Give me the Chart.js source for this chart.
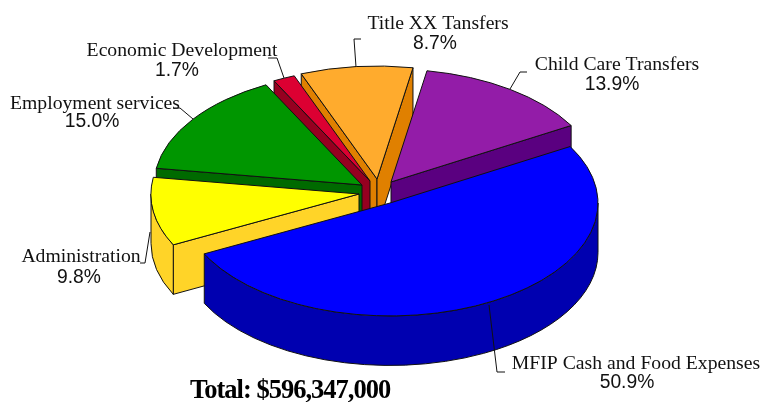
<!DOCTYPE html>
<html>
<head>
<meta charset="utf-8">
<script src="https://cdn.jsdelivr.net/npm/chart.js@4"></script>
<style>
  html, body { margin: 0; background: #fff; }
  canvas { display: block; }
</style>
</head>
<body>
<canvas id="pie" width="761" height="402"></canvas>
<script>
const categories = ["MFIP Cash and Food Expenses", "Administration", "Employment services", "Economic Development", "Title XX Tansfers", "Child Care Transfers"];
const shares = [50.9, 9.8, 15.0, 1.7, 8.7, 13.9];
const total = "Total: $596,347,000";

const topColors = ["#0000ff", "#ffff00", "#009600", "#dc0032", "#ffab2d", "#931ca8"];
const sideColors = ["#0000b0", "#ffd428", "#006a00", "#960020", "#e08000", "#5a0080"];

// fake 3d look
const squash = 0.543;
const depth = 49.5;
const explode = [[0, 0], [-31, -9], [-28, -18], [-20, -22], [-13, -24], [1, -21]];
const drawOrder = [4, 5, 3, 2, 1, 0]; // back to front

// name x, name y, percent x, percent y
const labelPos = [
  [636, 369, 627, 388],
  [81, 262, 79, 283],
  [95, 109, 92, 127],
  [182, 56, 177, 76],
  [438, 29, 435, 49],
  [617, 70, 612, 90],
];
const leaders = [
  [[489, 305], [497, 372], [505, 372]],
  [[150, 232], [145, 263], [140, 263]],
  [[193, 119], [180, 108], [173, 108]],
  [[284, 78], [277, 58], [268, 58]],
  [[356, 67], [354, 39], [361, 39]],
  [[510, 89], [520, 72], [527, 72]],
];

function drawWalls(ctx, arc, i) {
  const cx = arc.x + explode[i][0];
  const cy = arc.y + explode[i][1];
  const r = arc.outerRadius;
  const a = arc.startAngle;
  const b = arc.endAngle;
  ctx.fillStyle = sideColors[i];

  const radial = (ang) => {
    const ex = cx + Math.cos(ang) * r;
    const ey = cy + Math.sin(ang) * r * squash;
    ctx.beginPath();
    ctx.moveTo(cx, cy);
    ctx.lineTo(ex, ey);
    ctx.lineTo(ex, ey + depth);
    ctx.lineTo(cx, cy + depth);
    ctx.closePath();
    ctx.fill();
    ctx.stroke();
  };
  if (Math.cos(a) < 0) radial(a);
  if (Math.cos(b) > 0) radial(b);

  const lo = Math.max(a, 0);
  const hi = Math.min(b, Math.PI);
  if (lo < hi) {
    ctx.beginPath();
    ctx.ellipse(cx, cy, r, r * squash, 0, lo, hi);
    ctx.ellipse(cx, cy + depth, r, r * squash, 0, hi, lo, true);
    ctx.closePath();
    ctx.fill();
    ctx.stroke();
  }
}

function drawTop(ctx, arc, i) {
  const cx = arc.x + explode[i][0];
  const cy = arc.y + explode[i][1];
  ctx.save();
  ctx.translate(cx, cy);
  ctx.scale(1, squash);
  ctx.translate(-arc.x, -arc.y);
  arc.draw(ctx);
  ctx.restore();

  ctx.beginPath();
  ctx.moveTo(cx, cy);
  ctx.ellipse(cx, cy, arc.outerRadius, arc.outerRadius * squash, 0, arc.startAngle, arc.endAngle);
  ctx.closePath();
  ctx.stroke();
}

const pie3d = {
  id: "pie3d",
  beforeDatasetDraw(chart, args) {
    const ctx = chart.ctx;
    const arcs = args.meta.data;
    ctx.save();
    ctx.strokeStyle = "#111";
    ctx.lineWidth = 1;
    ctx.lineJoin = "round";
    drawOrder.forEach((i) => {
      drawWalls(ctx, arcs[i], i);
      drawTop(ctx, arcs[i], i);
    });
    ctx.restore();
    return false;
  },
  afterDraw(chart) {
    const ctx = chart.ctx;
    ctx.save();
    ctx.strokeStyle = "#111";
    ctx.lineWidth = 1;
    leaders.forEach((pts) => {
      ctx.beginPath();
      pts.forEach((p, n) => (n ? ctx.lineTo(p[0], p[1]) : ctx.moveTo(p[0], p[1])));
      ctx.stroke();
    });

    ctx.fillStyle = "#111";
    ctx.textAlign = "center";
    ctx.textBaseline = "alphabetic";
    categories.forEach((name, i) => {
      const pos = labelPos[i];
      ctx.font = '19.7px "Liberation Serif"';
      ctx.fillText(name, pos[0], pos[1]);
      ctx.font = '19.3px "Liberation Sans"';
      ctx.fillText(shares[i].toFixed(1) + "%", pos[2], pos[3]);
    });

    ctx.textAlign = "left";
    ctx.font = 'bold 26.5px "Liberation Serif"';
    ctx.letterSpacing = "-1px";
    ctx.fillStyle = "#000";
    ctx.fillText(total, 190, 398);
    ctx.restore();
  },
};

new Chart(document.getElementById("pie").getContext("2d"), {
  type: "pie",
  data: {
    labels: categories,
    datasets: [{
      data: shares,
      backgroundColor: topColors,
      borderWidth: 0,
      clip: false,
    }],
  },
  options: {
    responsive: false,
    animation: false,
    rotation: 60,
    radius: 208,
    layout: { padding: { left: 19, top: 4 } },
    plugins: { legend: { display: false }, tooltip: { enabled: false } },
  },
  plugins: [pie3d],
});
</script>
</body>
</html>
